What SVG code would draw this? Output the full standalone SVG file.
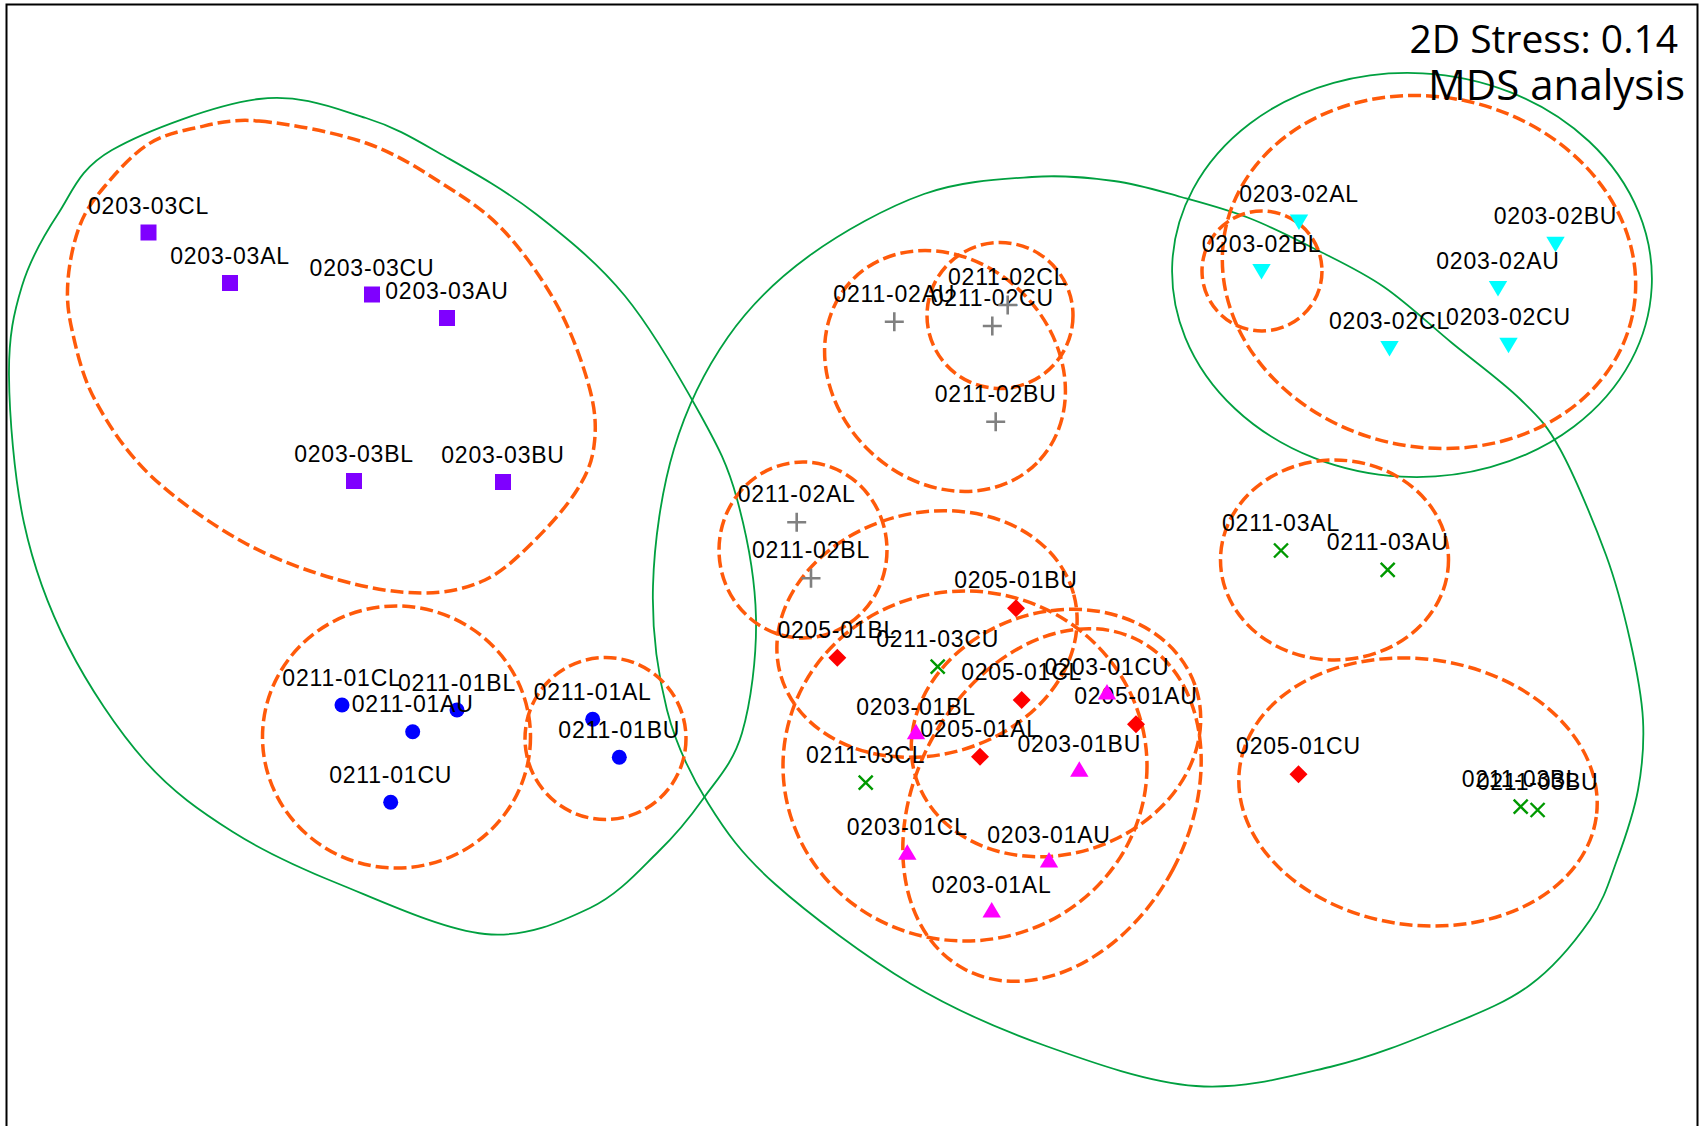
<svg xmlns="http://www.w3.org/2000/svg" width="1701" height="1126" viewBox="0 0 1701 1126">
<style>
.o{fill:none;stroke:#ff5a0a;stroke-width:3.5;stroke-dasharray:13 5}
.g{fill:none;stroke:#00a040;stroke-width:1.8}
.l{font-family:"Liberation Sans",Arial,sans-serif;font-size:23px;letter-spacing:0.8px;text-anchor:middle;fill:#000}
.t{font-family:"Open Sans","Noto Sans",sans-serif;text-anchor:end;fill:#000}
</style>
<defs>
<rect id="sq" x="-8" y="-8" width="16" height="16" fill="#7f00ff"/>
<circle id="dot" r="7.5" fill="#0000ff"/>
<path id="plus" d="M-9.5,0H9.5M0,-9.5V9.5" stroke="#808080" stroke-width="2.6" fill="none"/>
<polygon id="dia" points="0,-9 9,0 0,9 -9,0" fill="#ff0000"/>
<polygon id="up" points="0,-8 9.2,7.5 -9.2,7.5" fill="#ff00ff"/>
<polygon id="down" points="-9.2,-7.5 9.2,-7.5 0,8" fill="#00ffff"/>
<path id="xm" d="M-7,-7L7,7M-7,7L7,-7" stroke="#009900" stroke-width="2.4" fill="none"/>
</defs>
<rect x="6.5" y="4.5" width="1691" height="1200" fill="#fff" stroke="#000" stroke-width="2"/>

<g id="clusters">
<path class="g" d="M259,99 C301.3,93.7 334.8,108.3 366,118 S417.7,141 446,157 S506.2,190.8 536,214 S597.7,262.7 625,296 S681.3,380.2 700,414 S727.7,465 737,499 S755.2,579 756,618 S750.8,702.8 742,733 S717,779.2 703,799 S676.8,833.8 658,852 S618.8,894.3 590,908 S526.8,938 485,934 S381,901 339,884 S265.3,852.5 233,832 S172.5,792 145,761 S88.2,685.7 68,646 S33.8,568.2 24,523 S9.3,414.5 9,375 S13.8,312.8 22,286 S43,236.7 58,214 S78.5,169.2 112,150 S216.7,104.3 259,99 Z"/>
<path class="g" d="M1032,177 C1063.7,174.8 1089.2,177.7 1114,181 S1158.5,190.8 1181,197 S1226.3,209.2 1249,218 S1294.5,238.5 1317,250 S1361.5,271.5 1384,287 S1429.3,324.3 1452,343 S1502,381.3 1520,399 S1545.7,423 1560,449 S1594.3,523.2 1606,555 S1623.8,612.5 1630,640 S1641.7,695 1643,720 S1642.3,766.7 1638,790 S1625,838.3 1617,860 S1604.5,899.2 1590,920 S1554.2,967.2 1530,985 S1478.3,1013.3 1445,1027 S1371.5,1057.2 1330,1067 S1243.3,1089.5 1196,1086 S1093.5,1063 1046,1046 S956.2,1011 911,984 S808.8,914.2 775,884 S726,832 708,803 S676.2,746.2 667,710 S651.8,629.5 653,586 S661.5,490.5 674,449 S705.5,369.2 728,337 S776.3,279.8 809,256 S886.8,207.2 924,194 S1000.3,179.2 1032,177 Z"/>
<ellipse class="g" cx="1412" cy="275" rx="240" ry="202" transform="rotate(3 1412 275)"/>

<path class="o" d="M259,121 C287.5,123.5 334.8,132.2 366,143 S422.8,171.2 446,186 S486.3,211.8 505,232 S543.8,280.7 558,307 S584,366.8 590,390 S596.2,429.3 594,446 S586.8,474.3 577,490 S550.3,525 535,540 S503.8,571.2 485,580 S446.3,593 422,593 S368.8,588.5 339,580 S274.5,559.5 243,542 S174.7,498.7 150,475 S108,424.2 95,400 S76.5,350 72,330 S66.7,297.5 68,280 S73.8,240.7 80,225 S93.8,199.3 105,186 S132,154.7 147,145 S176.3,132 195,128 S230.5,118.5 259,121 Z"/>
<ellipse class="o" cx="396.5" cy="737" rx="134" ry="131"/>
<ellipse class="o" cx="605.5" cy="738.5" rx="80.5" ry="81"/>
<ellipse class="o" cx="945" cy="371" rx="130" ry="110" transform="rotate(45 945 371)"/>
<ellipse class="o" cx="1000" cy="315.5" rx="73" ry="73"/>
<ellipse class="o" cx="803" cy="550" rx="84" ry="88"/>
<ellipse class="o" cx="927" cy="634" rx="152" ry="121" transform="rotate(-15 927 634)"/>
<ellipse class="o" cx="965" cy="766" rx="182" ry="175"/>
<ellipse class="o" cx="1056" cy="733" rx="147" ry="121" transform="rotate(-18 1056 733)"/>
<ellipse class="o" cx="1052" cy="805" rx="137" ry="186" transform="rotate(28 1052 805)"/>
<ellipse class="o" cx="1429" cy="272" rx="208" ry="175" transform="rotate(12 1429 272)"/>
<ellipse class="o" cx="1262" cy="271" rx="60" ry="60"/>
<ellipse class="o" cx="1334.5" cy="560" rx="114" ry="100"/>
<ellipse class="o" cx="1418" cy="792" rx="180" ry="133" transform="rotate(8 1418 792)"/>
</g>

<g id="n-0203-03CL"><use href="#sq" x="148.5" y="232.5"/><text class="l" x="148.5" y="213.5">0203-03CL</text></g>
<g id="n-0203-03AL"><use href="#sq" x="230" y="283"/><text class="l" x="230" y="264">0203-03AL</text></g>
<g id="n-0203-03CU"><use href="#sq" x="372" y="294.5"/><text class="l" x="372" y="275.5">0203-03CU</text></g>
<g id="n-0203-03AU"><use href="#sq" x="447" y="318"/><text class="l" x="447" y="299">0203-03AU</text></g>
<g id="n-0203-03BL"><use href="#sq" x="354" y="481"/><text class="l" x="354" y="462">0203-03BL</text></g>
<g id="n-0203-03BU"><use href="#sq" x="503" y="482"/><text class="l" x="503" y="463">0203-03BU</text></g>

<g id="n-0211-01CL"><use href="#dot" x="342" y="705"/><text class="l" x="342" y="685.5">0211-01CL</text></g>
<g id="n-0211-01BL"><use href="#dot" x="457" y="710"/><text class="l" x="457" y="690.5">0211-01BL</text></g>
<g id="n-0211-01AU"><use href="#dot" x="412.7" y="731.7"/><text class="l" x="412.7" y="712.2">0211-01AU</text></g>
<g id="n-0211-01CU"><use href="#dot" x="390.7" y="802.3"/><text class="l" x="390.7" y="782.8">0211-01CU</text></g>
<g id="n-0211-01AL"><use href="#dot" x="592.7" y="719.3"/><text class="l" x="592.7" y="699.8">0211-01AL</text></g>
<g id="n-0211-01BU"><use href="#dot" x="619.3" y="757.3"/><text class="l" x="619.3" y="737.8">0211-01BU</text></g>

<g id="n-0211-02AU"><use href="#plus" x="894.3" y="321.7"/><text class="l" x="894.3" y="301.7">0211-02AU</text></g>
<g id="n-0211-02CU"><use href="#plus" x="992.3" y="326"/><text class="l" x="992.3" y="306">0211-02CU</text></g>
<g id="n-0211-02CL"><use href="#plus" x="1007.7" y="305"/><text class="l" x="1007.7" y="285">0211-02CL</text></g>
<g id="n-0211-02BU"><use href="#plus" x="995.7" y="421.7"/><text class="l" x="995.7" y="401.7">0211-02BU</text></g>
<g id="n-0211-02AL"><use href="#plus" x="796.7" y="522.3"/><text class="l" x="796.7" y="502.3">0211-02AL</text></g>
<g id="n-0211-02BL"><use href="#plus" x="811" y="578.3"/><text class="l" x="811" y="558.3">0211-02BL</text></g>

<g id="n-0205-01BU"><use href="#dia" x="1016" y="608.3"/><text class="l" x="1016" y="588.3">0205-01BU</text></g>
<g id="n-0205-01BL"><use href="#dia" x="837.3" y="657.7"/><text class="l" x="837.3" y="637.7">0205-01BL</text></g>
<g id="n-0205-01CL"><use href="#dia" x="1021.7" y="700"/><text class="l" x="1021.7" y="680">0205-01CL</text></g>
<g id="n-0205-01AU"><use href="#dia" x="1136" y="724.3"/><text class="l" x="1136" y="704.3">0205-01AU</text></g>
<g id="n-0205-01AL"><use href="#dia" x="980" y="756.7"/><text class="l" x="980" y="736.7">0205-01AL</text></g>
<g id="n-0205-01CU"><use href="#dia" x="1298.5" y="774.3"/><text class="l" x="1298.5" y="754.3">0205-01CU</text></g>

<g id="n-0203-01CU"><use href="#up" x="1107" y="692"/><text class="l" x="1107" y="675">0203-01CU</text></g>
<g id="n-0203-01BL"><use href="#up" x="916" y="731.7"/><text class="l" x="916" y="714.7">0203-01BL</text></g>
<g id="n-0203-01BU"><use href="#up" x="1079.3" y="769.3"/><text class="l" x="1079.3" y="752.3">0203-01BU</text></g>
<g id="n-0203-01CL"><use href="#up" x="907.3" y="852.3"/><text class="l" x="907.3" y="835.3">0203-01CL</text></g>
<g id="n-0203-01AU"><use href="#up" x="1049" y="860"/><text class="l" x="1049" y="843">0203-01AU</text></g>
<g id="n-0203-01AL"><use href="#up" x="991.7" y="910"/><text class="l" x="991.7" y="893">0203-01AL</text></g>

<g id="n-0203-02AL"><use href="#down" x="1299" y="222"/><text class="l" x="1299" y="202">0203-02AL</text></g>
<g id="n-0203-02BL"><use href="#down" x="1261.5" y="271.5"/><text class="l" x="1261.5" y="251.5">0203-02BL</text></g>
<g id="n-0203-02BU"><use href="#down" x="1555.5" y="244.3"/><text class="l" x="1555.5" y="224.3">0203-02BU</text></g>
<g id="n-0203-02AU"><use href="#down" x="1498" y="288.6"/><text class="l" x="1498" y="268.6">0203-02AU</text></g>
<g id="n-0203-02CL"><use href="#down" x="1389.5" y="348.6"/><text class="l" x="1389.5" y="328.6">0203-02CL</text></g>
<g id="n-0203-02CU"><use href="#down" x="1508.5" y="345.3"/><text class="l" x="1508.5" y="325.3">0203-02CU</text></g>

<g id="n-0211-03CU"><use href="#xm" x="937.7" y="666.7"/><text class="l" x="937.7" y="646.7">0211-03CU</text></g>
<g id="n-0211-03CL"><use href="#xm" x="865.7" y="782.7"/><text class="l" x="865.7" y="762.7">0211-03CL</text></g>
<g id="n-0211-03AL"><use href="#xm" x="1281" y="550.5"/><text class="l" x="1281" y="530.5">0211-03AL</text></g>
<g id="n-0211-03AU"><use href="#xm" x="1387.7" y="569.8"/><text class="l" x="1387.7" y="549.8">0211-03AU</text></g>
<g id="n-0211-03BL"><use href="#xm" x="1520.7" y="806.7"/><text class="l" x="1520.7" y="786.7">0211-03BL</text></g>
<g id="n-0211-03BU"><use href="#xm" x="1537.6" y="810"/><text class="l" x="1537.6" y="790">0211-03BU</text></g>

<g id="title">
<text class="t" x="1678" y="53" font-size="39">2D Stress: 0.14</text>
<text class="t" x="1685" y="100" font-size="42">MDS analysis</text>
</g>
</svg>
